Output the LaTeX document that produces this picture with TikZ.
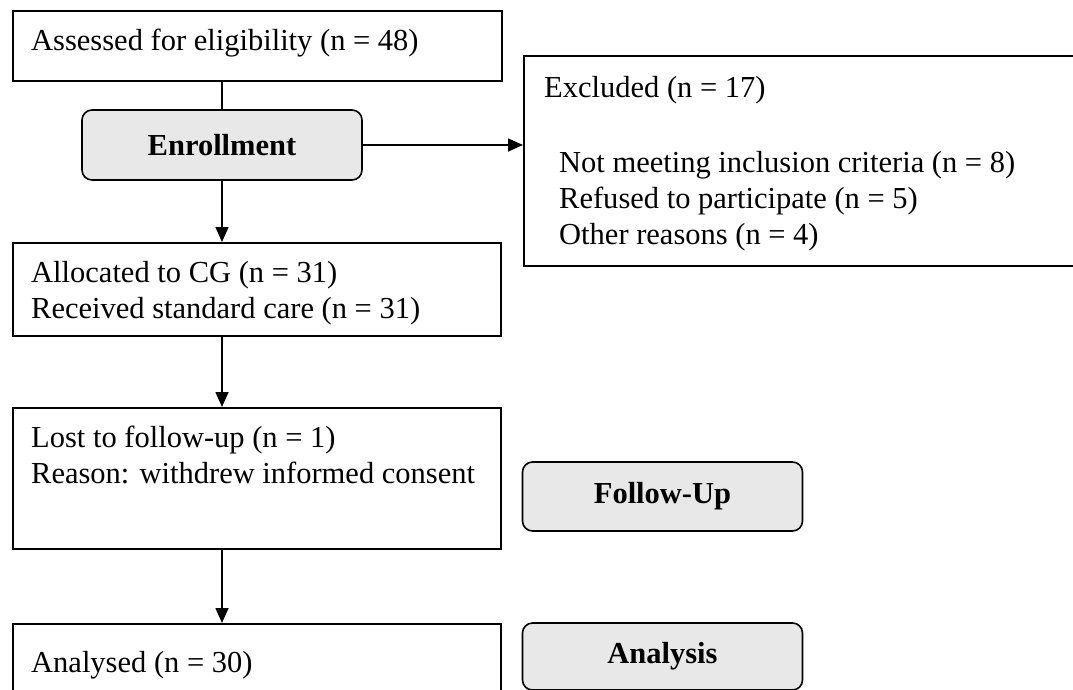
\documentclass[tikz,border=0pt]{standalone}
\usepackage{fontspec}
\setmainfont{Liberation Serif}
\usetikzlibrary{arrows.meta}
\definecolor{phasegray}{HTML}{E8E8E8}
\begin{document}
\begin{tikzpicture}[x=1pt,y=-1pt,
  box/.style={draw,line width=1.6pt,inner sep=0pt,anchor=north west},
  phase/.style={draw,line width=1.6pt,rounded corners=10pt,fill=phasegray,inner sep=0pt,
    minimum width=280pt,font=\bfseries\fontsize{30.5}{35}\selectfont},
  txt/.style={anchor=base west,inner sep=0pt,font=\fontsize{30.5}{35}\selectfont},
  conn/.style={line width=1.6pt},
  arr/.style={conn,-{Triangle[length=15pt,width=13pt]}}]
\useasboundingbox (0,0) rectangle (1073,689);
\clip (0,0) rectangle (1073,689);
% boxes
\node[box,minimum width=489pt,minimum height=70pt] (assess) at (12,10) {};
\node[box,minimum width=600pt,minimum height=210pt] (excl) at (523,55) {};
\node[box,minimum width=488pt,minimum height=93pt] (alloc) at (12,242) {};
\node[box,minimum width=488pt,minimum height=141pt] (lost) at (12,407) {};
\node[box,minimum width=488pt,minimum height=100pt] (anal) at (12,623) {};
% phase labels
\node[phase,minimum height=70pt] (enroll) at (222,145) {Enrollment};
\node[phase,minimum height=69pt] (follow) at (662.5,496.5) {Follow-Up};
\node[phase,minimum height=67pt] (analysis) at (662.5,656.5) {Analysis};
% texts
\node[txt] (t1) at (31,50) {Assessed for eligibility (n = 48)};
\node[txt] (t2) at (544,97) {Excluded (n = 17)};
\node[txt] (t3) at (559,172) {Not meeting inclusion criteria (n = 8)};
\node[txt] (t4) at (559,208) {Refused to participate (n = 5)};
\node[txt] (t5) at (559,244) {Other reasons (n = 4)};
\node[txt] (t6) at (31,282) {Allocated to CG (n = 31)};
\node[txt] (t7) at (31,318) {Received standard care (n = 31)};
\node[txt] (t8) at (31,447) {Lost to follow-up (n = 1)};
\node[txt] (t9) at (31,483) {Reason: withdrew informed consent};
\node[txt] (t10) at (31,672) {Analysed (n = 30)};
% connectors
\draw[conn] (assess.south -| enroll.north) -- (enroll.north);
\draw[arr] (enroll.east) -- (enroll.east -| excl.west);
\draw[arr] (enroll.south) -- (enroll.south |- alloc.north);
\draw[arr] (alloc.south -| enroll.south) -- (lost.north -| enroll.south);
\draw[arr] (lost.south -| enroll.south) -- (anal.north -| enroll.south);
\end{tikzpicture}
\end{document}
